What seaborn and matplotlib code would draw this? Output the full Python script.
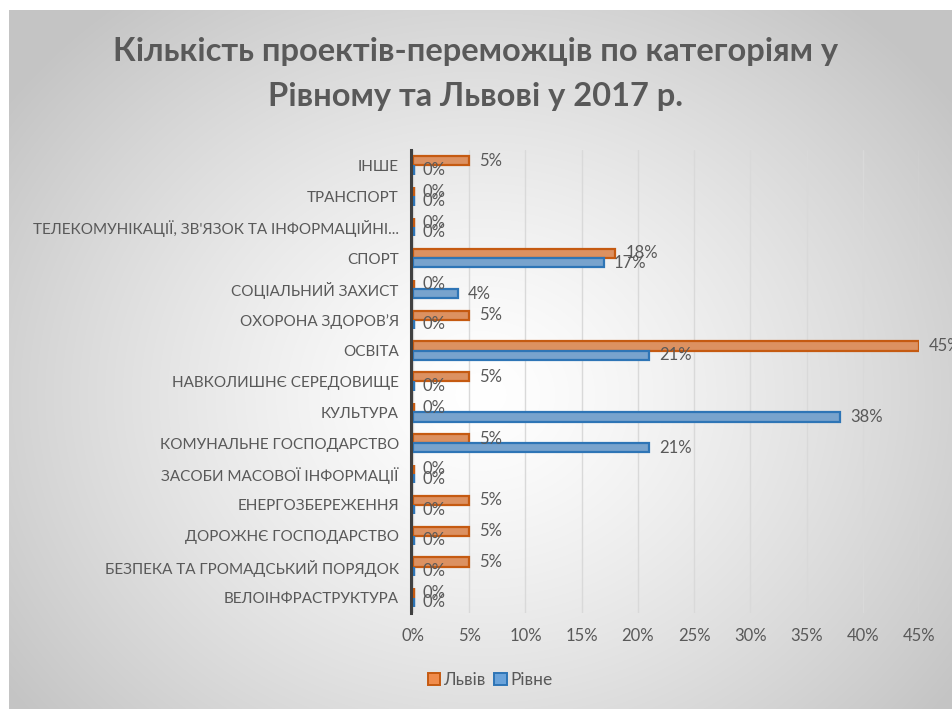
import numpy as np
import pandas as pd
import matplotlib
matplotlib.use("Agg")
import matplotlib.pyplot as plt
import seaborn as sns
from matplotlib.patches import Patch

categories = [
    "ІНШЕ", "ТРАНСПОРТ", "ТЕЛЕКОМУНІКАЦІЇ, ЗВ'ЯЗОК ТА ІНФОРМАЦІЙНІ...",
    "СПОРТ", "СОЦІАЛЬНИЙ ЗАХИСТ", "ОХОРОНА ЗДОРОВ’Я", "ОСВІТА",
    "НАВКОЛИШНЄ СЕРЕДОВИЩЕ", "КУЛЬТУРА", "КОМУНАЛЬНЕ ГОСПОДАРСТВО",
    "ЗАСОБИ МАСОВОЇ ІНФОРМАЦІЇ", "ЕНЕРГОЗБЕРЕЖЕННЯ", "ДОРОЖНЄ ГОСПОДАРСТВО",
    "БЕЗПЕКА ТА ГРОМАДСЬКИЙ ПОРЯДОК", "ВЕЛОІНФРАСТРУКТУРА",
]
lviv = [5, 0, 0, 18, 0, 5, 45, 5, 0, 5, 0, 5, 5, 5, 0]
rivne = [0, 0, 0, 17, 4, 0, 21, 0, 38, 21, 0, 0, 0, 0, 0]
series = ["Львів", "Рівне"]
xticks = [0, 5, 10, 15, 20, 25, 30, 35, 40, 45]
title = "Кількість проектів-переможців по категоріям у\nРівному та Львові у 2017 р."

fills = {"Львів": "#F08C4C", "Рівне": "#6AA3DB"}
edges = {"Львів": "#C55A11", "Рівне": "#2E75B6"}
txt = "#595959"
FONT = "Lato"

df = pd.DataFrame({
    "cat": categories * 2,
    "val": lviv + rivne,
    "city": [series[0]] * len(categories) + [series[1]] * len(categories),
})

sns.set_theme(style="white")
plt.rcParams["font.family"] = [FONT, "DejaVu Sans"]

fig = plt.figure(figsize=(9.52, 7.09), dpi=100)
fig.patch.set_facecolor("white")

# radial gradient background
bg = fig.add_axes([9 / 952, 0, 1 - 9 / 952, 1 - 10 / 709], zorder=-5)
h, w = 699, 943
yy, xx = np.mgrid[0:h, 0:w]
cx, cy = w * 0.5, h * 0.55
r = np.sqrt(((xx - cx) / (w * 0.62)) ** 2 + ((yy - cy) / (h * 0.72)) ** 2)
r = np.clip(r, 0, 1)
val = 1.0 - (1.0 - 0.77) * r ** 1.3
bg.imshow(np.dstack([val, val, val]), aspect="auto", extent=[0, 1, 0, 1])
bg.axis("off")

ax = fig.add_axes([413 / 952, 1 - 613 / 709, (919 - 413) / 952, (613 - 150) / 709])
ax.set_facecolor("none")

sns.barplot(data=df, y="cat", x="val", hue="city", hue_order=series,
            order=categories, orient="h", width=0.6,
            palette=fills, linewidth=1.6, ax=ax, legend=False)

for cont, s in zip(ax.containers, series):
    for p in cont:
        p.set_edgecolor(edges[s])
        p.set_linewidth(1.6 if p.get_width() > 0 else 3.2)
        p.set_zorder(3)
    ax.bar_label(cont, labels=[f"{v:g}%" for v in cont.datavalues],
                 padding=7, fontsize=12, color=txt, clip_on=False)

ax.set_xlim(0, 45)
ax.set_ylim(len(categories) - 0.5, -0.5)
ax.set_xticks(xticks)
ax.set_xticklabels([f"{t}%" for t in xticks], fontsize=12, color=txt)
ax.tick_params(axis="x", length=0, pad=11)
ax.tick_params(axis="y", length=0, pad=9, labelsize=11, labelcolor=txt)
ax.set_xlabel("")
ax.set_ylabel("")
ax.grid(axis="x", color="#D9D9D9", linewidth=1)
ax.set_axisbelow(True)
for sp in ["top", "right", "bottom"]:
    ax.spines[sp].set_visible(False)
ax.spines["left"].set_color("#404040")
ax.spines["left"].set_linewidth(2.2)
ax.spines["left"].set_position(("outward", 1.2))
ax.spines["left"].set_zorder(4)

fig.text(476 / 952, 1 - 74 / 709, title, ha="center", va="center",
         fontsize=23.5, fontweight="bold", color=txt, linespacing=1.68)

handles = [Patch(facecolor=fills[s], edgecolor=edges[s], linewidth=1.4, label=s)
           for s in series]
fig.legend(handles=handles, loc="center", bbox_to_anchor=(490 / 952, 1 - 680 / 709),
           ncol=2, frameon=False, fontsize=12.5, handlelength=0.7, handleheight=0.7,
           handletextpad=0.2, columnspacing=0.5, labelcolor=txt)

fig.savefig("out.png", dpi=100)
